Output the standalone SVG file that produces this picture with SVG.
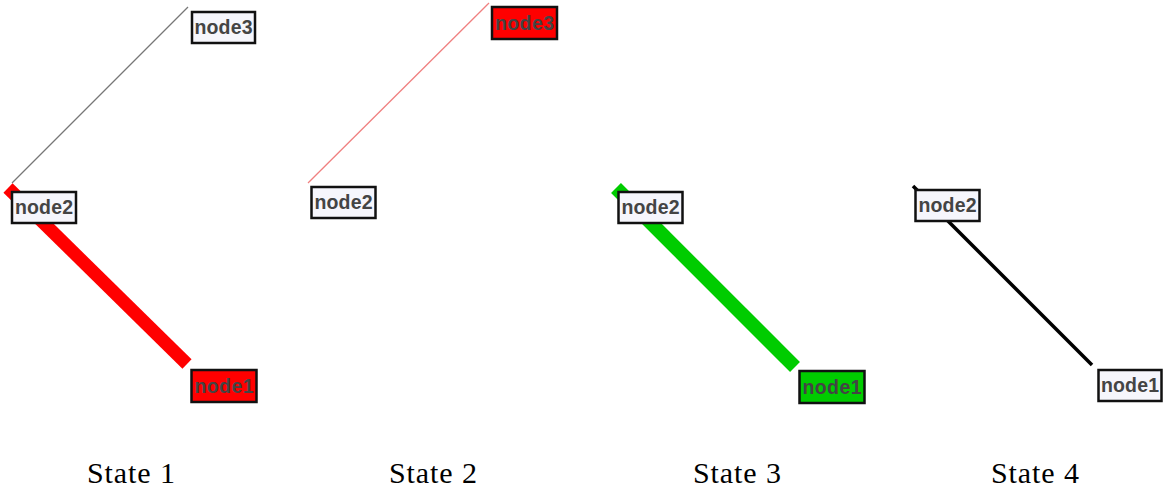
<svg xmlns="http://www.w3.org/2000/svg" width="1163" height="490" viewBox="0 0 1163 490">
<style>
.box{stroke:#111;stroke-width:2.5;fill:#f6f6fc}
.red{fill:#ff0000}
.green{fill:#00cc00}
.nt{font-family:"Liberation Sans",Arial,sans-serif;font-weight:bold;font-size:19.5px;fill:#444;text-anchor:middle}
.lbl{font-family:"Liberation Serif","Times New Roman",serif;font-size:30px;fill:#000;text-anchor:middle}
</style>
<rect width="1163" height="490" fill="#fff"/>
<g id="connectors">
<line x1="188" y1="7" x2="12" y2="183" stroke="#777" stroke-width="1.2"/>
<line x1="8" y1="188" x2="187" y2="364" stroke="#ff0000" stroke-width="13"/>
<line x1="489" y1="3" x2="308" y2="183" stroke="#f08080" stroke-width="1.3"/>
<line x1="616" y1="188" x2="795" y2="367" stroke="#00cc00" stroke-width="14"/>
<line x1="913" y1="186" x2="1092" y2="365" stroke="#000" stroke-width="3.5"/>
</g>
<g id="s1-node3"><rect class="box" x="192" y="12" width="63" height="31"/><text class="nt" x="223.5" y="34" textLength="58">node3</text></g>
<g id="s1-node2"><rect class="box" x="12" y="192" width="64" height="31"/><text class="nt" x="44" y="214" textLength="58">node2</text></g>
<g id="s1-node1"><rect class="box red" x="191.5" y="370" width="65" height="32"/><text class="nt" x="224" y="392.5" textLength="59">node1</text></g>
<g id="s2-node3"><rect class="box red" x="492" y="7" width="65" height="32"/><text class="nt" x="524.5" y="29.5" textLength="59">node3</text></g>
<g id="s2-node2"><rect class="box" x="311.5" y="187" width="64" height="31"/><text class="nt" x="343.5" y="209" textLength="58">node2</text></g>
<g id="s3-node2"><rect class="box" x="618.5" y="192" width="64" height="31"/><text class="nt" x="650.5" y="214" textLength="58">node2</text></g>
<g id="s3-node1"><rect class="box green" x="799.5" y="371" width="65" height="32"/><text class="nt" x="832" y="393.5" textLength="59">node1</text></g>
<g id="s4-node2"><rect class="box" x="915.5" y="190" width="64" height="31"/><text class="nt" x="947.5" y="212" textLength="58">node2</text></g>
<g id="s4-node1"><rect class="box" x="1098.5" y="370" width="63" height="31"/><text class="nt" x="1130" y="392" textLength="58">node1</text></g>
<g id="labels">
<text class="lbl" x="131" y="483" textLength="88">State 1</text>
<text class="lbl" x="433" y="483" textLength="88">State 2</text>
<text class="lbl" x="737" y="483" textLength="88">State 3</text>
<text class="lbl" x="1035" y="483" textLength="88">State 4</text>
</g>
</svg>
